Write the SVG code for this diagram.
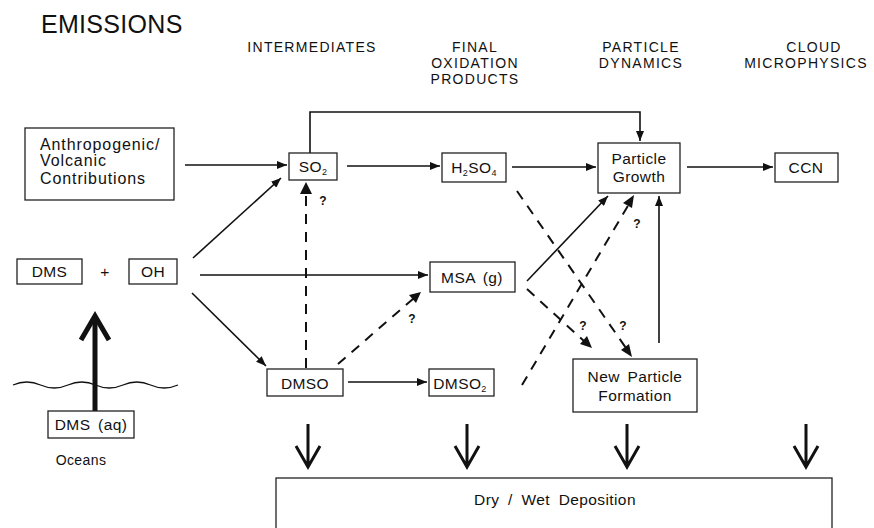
<svg xmlns="http://www.w3.org/2000/svg" width="874" height="528" viewBox="0 0 874 528">
<style>
  text { font-family: "Liberation Sans", Arial, sans-serif; fill: #111; }
  .hdr { font-size: 14px; letter-spacing: 1.3px; text-anchor: middle; }
  .lbl { font-size: 15.5px; letter-spacing: 0.4px; word-spacing: 3px; text-anchor: middle; }
  .an { font-size: 16px; letter-spacing: 0.9px; }
  .box { fill: #fff; stroke: #222; stroke-width: 1.3; }
  .ln { fill: none; stroke: #111; stroke-width: 1.6; }
  .dash { fill: none; stroke: #111; stroke-width: 2; stroke-dasharray: 10 8; }
  .q { font-size: 12px; font-weight: bold; text-anchor: middle; }
  .big { fill: none; stroke: #111; stroke-width: 3; stroke-linejoin: miter; }
  .sub { font-size: 9px; }
</style>
<defs>
  <marker id="ah" viewBox="0 0 10 8" refX="10" refY="4" markerWidth="10" markerHeight="8" markerUnits="userSpaceOnUse" orient="auto">
    <path d="M0,0 L10,4 L0,8 Z" fill="#111"/>
  </marker>
</defs>

<g id="headers">
  <text x="41" y="33" style="font-size:25px; letter-spacing:0.3px">EMISSIONS</text>
  <text class="hdr" x="312" y="52">INTERMEDIATES</text>
  <text class="hdr" x="475" y="52">FINAL</text>
  <text class="hdr" x="475" y="68">OXIDATION</text>
  <text class="hdr" x="475" y="84">PRODUCTS</text>
  <text class="hdr" x="641" y="52">PARTICLE</text>
  <text class="hdr" x="641" y="68">DYNAMICS</text>
  <text class="hdr" x="814" y="52">CLOUD</text>
  <text class="hdr" x="806" y="68">MICROPHYSICS</text>
</g>

<g id="connectors">
  <path class="ln" d="M185,165 H287" marker-end="url(#ah)"/>
  <path class="ln" d="M310,153 V112 H640 V141" marker-end="url(#ah)"/>
  <path class="ln" d="M347,166 H440" marker-end="url(#ah)"/>
  <path class="ln" d="M512,167 H596" marker-end="url(#ah)"/>
  <path class="ln" d="M687,167 H773" marker-end="url(#ah)"/>
  <path class="ln" d="M193,258 L281,178" marker-end="url(#ah)"/>
  <path class="ln" d="M200,275 H428" marker-end="url(#ah)"/>
  <path class="ln" d="M192,293 L266,366" marker-end="url(#ah)"/>
  <path class="dash" d="M306,368 V185"/>
  <path d="M300,194 L306,182 L312,194 Z" fill="#111"/>
  <path class="dash" d="M338,364 L414,298"/>
  <path d="M421,292 L416,303 L409,295 Z" fill="#111"/>
  <path class="ln" d="M348,382 H427" marker-end="url(#ah)"/>
  <path class="ln" d="M527,281 L608,196" marker-end="url(#ah)"/>
  <path class="dash" d="M522,385 L629,204"/>
  <path d="M634,195 L632,208 L623,203 Z" fill="#111"/>
  <path class="dash" d="M517,191 L626,348"/>
  <path d="M632,357 L621,350 L629,344 Z" fill="#111"/>
  <path class="dash" d="M527,289 L585,342"/>
  <path d="M592,348 L580,344 L587,336 Z" fill="#111"/>
  <path class="ln" d="M659,343 V196" marker-end="url(#ah)"/>
  <text class="q" x="323" y="205">?</text>
  <text class="q" x="412" y="323">?</text>
  <text class="q" x="637" y="228">?</text>
  <text class="q" x="583" y="330">?</text>
  <text class="q" x="623" y="330">?</text>
</g>

<g id="anthropogenic">
  <rect class="box" x="25" y="128" width="149" height="72"/>
  <text class="an" x="40" y="150">Anthropogenic/</text>
  <text class="an" x="40" y="166">Volcanic</text>
  <text class="an" x="40" y="184">Contributions</text>
</g>
<g id="so2">
  <rect class="box" x="289" y="153" width="48" height="27"/>
  <text class="lbl" x="313" y="172">SO<tspan class="sub" dy="3">2</tspan></text>
</g>
<g id="h2so4">
  <rect class="box" x="442" y="153" width="64" height="29"/>
  <text class="lbl" x="474" y="173">H<tspan class="sub" dy="3">2</tspan><tspan dy="-3">SO</tspan><tspan class="sub" dy="3">4</tspan></text>
</g>
<g id="particle-growth">
  <rect class="box" x="598" y="143" width="82" height="50"/>
  <text class="lbl" x="639" y="164">Particle</text>
  <text class="lbl" x="639" y="182">Growth</text>
</g>
<g id="ccn">
  <rect class="box" x="775" y="153" width="63" height="29"/>
  <text class="lbl" x="806" y="173">CCN</text>
</g>
<g id="dms">
  <rect class="box" x="17" y="259" width="65" height="25"/>
  <text class="lbl" x="49.5" y="277">DMS</text>
</g>
<g id="plus">
  <text class="lbl" x="105" y="277">+</text>
</g>
<g id="oh">
  <rect class="box" x="129" y="259" width="48" height="25"/>
  <text class="lbl" x="153" y="277">OH</text>
</g>
<g id="msa">
  <rect class="box" x="430" y="262" width="85" height="30"/>
  <text class="lbl" x="472" y="283">MSA (g)</text>
</g>
<g id="dmso">
  <rect class="box" x="267" y="369" width="76" height="27"/>
  <text class="lbl" x="305" y="389">DMSO</text>
</g>
<g id="dmso2">
  <rect class="box" x="429" y="369" width="65" height="27"/>
  <text class="lbl" x="460" y="389">DMSO<tspan class="sub" dy="3">2</tspan></text>
</g>
<g id="new-particle-formation">
  <rect class="box" x="573" y="359" width="124" height="53"/>
  <text class="lbl" x="635" y="382">New Particle</text>
  <text class="lbl" x="635" y="401">Formation</text>
</g>

<g id="ocean">
  <path d="M13,385 q13.75,-6 27.5,0 t27.5,0 t27.5,0 t27.5,0 t27.5,0 t27.5,0" fill="none" stroke="#111" stroke-width="1.3"/>
  <path d="M95,411 V318" fill="none" stroke="#111" stroke-width="5"/>
  <path d="M81,340 L95,316 L109,340" fill="none" stroke="#111" stroke-width="5" stroke-linejoin="miter"/>
</g>
<g id="dms-aq">
  <rect class="box" x="48" y="411" width="86" height="27"/>
  <text class="lbl" x="91" y="430">DMS (aq)</text>
</g>
<g id="oceans-label">
  <text class="lbl" x="81" y="465" style="font-size:14px">Oceans</text>
</g>

<g id="deposition-arrows">
  <path class="big" d="M308,424 V465 M296,446 L308,467 L320,446"/>
  <path class="big" d="M467,424 V465 M455,446 L467,467 L479,446"/>
  <path class="big" d="M627,424 V465 M615,446 L627,467 L639,446"/>
  <path class="big" d="M806,424 V465 M794,446 L806,467 L818,446"/>
</g>
<g id="deposition">
  <rect class="box" x="276" y="478" width="556" height="70"/>
  <text class="lbl" x="555" y="505" style="word-spacing:4px">Dry / Wet Deposition</text>
</g>
</svg>
